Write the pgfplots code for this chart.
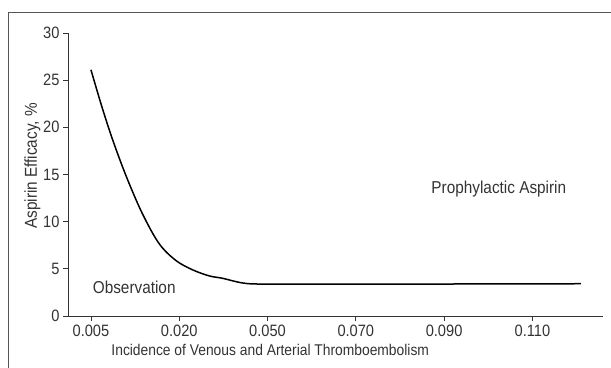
\documentclass[border=0pt]{standalone}
\usepackage{fontspec}
\setmainfont{Liberation Sans}[FakeStretch=0.89]
\usepackage{pgfplots}
\pgfplotsset{compat=1.18}
\definecolor{txt}{HTML}{333333}
\definecolor{frame}{HTML}{555555}
\begin{document}
\begin{tikzpicture}
\useasboundingbox (0,0) rectangle (611bp,368bp);
\draw[frame, line width=1bp] (8bp,0) -- (8bp,355bp) -- (611bp,355bp);
\begin{axis}[
  at={(68bp,52bp)}, anchor=south west,
  scale only axis, width=535bp, height=283bp,
  xmin=-0.26, xmax=5.8, ymin=0, ymax=30,
  axis lines*=left,
  axis line style={txt, line width=0.8bp, -},
  xtick={0,1,2,3,4,5},
  xticklabels={0.005,0.020,0.050,0.070,0.090,0.110},
  ytick={0,5,...,30},
  tick style={txt, line width=0.8bp},
  tick align=outside,
  major tick length=5bp,
  /pgf/number format/assume math mode=true,
  ticklabel style={font=\fontsize{16.5}{18}\selectfont, text=txt},
  label style={font=\fontsize{17.3}{19}\selectfont, text=txt},
  xlabel={Incidence of Venous and Arterial Thromboembolism},
  ylabel={Aspirin Efficacy, \%},
  xlabel style={at={(rel axis cs:0.378,0)}, anchor=north, yshift=-25bp, font=\fontsize{15.6}{17}\selectfont},
  ylabel style={at={(ticklabel cs:0.53)}, anchor=near ticklabel, yshift=-4bp},
  xticklabel style={yshift=-1bp},
  clip=false,
]
\addplot[black, line width=1.5bp, smooth, tension=0.55] coordinates {
(0,26.1) (0.12,22.3) (0.245,18.7) (0.40,14.8) (0.58,10.9) (0.77,7.7)
(0.96,5.9) (1.15,4.9) (1.34,4.25) (1.49,4.0) (1.72,3.5) (1.98,3.38)
(3,3.37) (4,3.39) (5,3.41) (5.55,3.42)
};
\node[font=\fontsize{17.3}{19}\selectfont, text=txt] at (axis cs:0.49,3.0) {Observation};
\node[font=\fontsize{17.3}{19}\selectfont, text=txt] at (axis cs:4.62,13.5) {Prophylactic Aspirin};
\end{axis}
\end{tikzpicture}
\end{document}
